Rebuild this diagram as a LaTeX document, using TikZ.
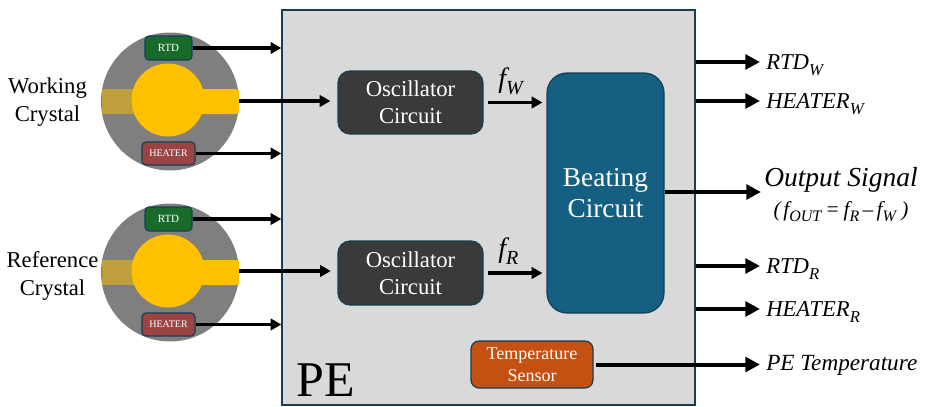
\documentclass[tikz,border=0pt]{standalone}
\usepackage{fontspec}
\setmainfont{Liberation Serif}
\usetikzlibrary{arrows.meta,calc}
\definecolor{edgeblue}{HTML}{163E54}
\definecolor{pefill}{HTML}{D9D9D9}
\definecolor{disc}{HTML}{7F7F7F}
\definecolor{gold}{HTML}{FFC000}
\definecolor{dullgold}{HTML}{BF9E3C}
\definecolor{rtdgreen}{HTML}{196B2C}
\definecolor{heatred}{HTML}{9C4444}
\definecolor{oscgray}{HTML}{3A3A3A}
\definecolor{beatblue}{HTML}{156082}
\definecolor{tempor}{HTML}{C45011}
\newcommand{\fs}[2]{\fontsize{#1pt}{#2pt}\selectfont}
\newcommand{\lowsub}[2]{\raisebox{-0.28em}{\fontsize{#1pt}{#1pt}\selectfont #2}}
\tikzset{
  x=0.75pt,y=-0.75pt,
  blockbox/.style={draw=edgeblue,line width=0.9pt,rounded corners=#1,align=center,text=white,inner sep=0pt},
  sized/.style args={#1x#2}{minimum width=#1*0.75pt,minimum height=#2*0.75pt},
  conn/.style={-{Triangle[length=11pt,width=11pt]},line width=3pt,black},
  thinconn/.style={-{Triangle[length=8pt,width=8.5pt]},line width=2.6pt,black},
  outlab/.style={anchor=west,inner sep=0pt,text height=12pt,text depth=1.5pt},
}
\begin{document}
\begin{tikzpicture}
\useasboundingbox (0,0) rectangle (925,407);
% processing electronics block
\node[draw=edgeblue,fill=pefill,line width=1pt,minimum width=413*0.75pt,minimum height=395*0.75pt,inner sep=0pt] (pe) at (488.5,207.5) {};
\node[anchor=base west,inner sep=0pt,font=\fs{37.5}{40}] (pelabel) at (296,396) {PE};

% working crystal
\node[circle,fill=disc,minimum size=138*0.75pt,inner sep=0pt] (disc1) at (170,101.5) {};
\fill[dullgold] (101.5,89) -- (135,89) -- (135,114) -- (101.5,114) -- cycle;
\fill[gold,rounded corners=2pt] (200,89) rectangle (239,114);
\node[circle,fill=gold,minimum size=73*0.75pt,inner sep=0pt] (gold1) at (168,100) {};
\coordinate (tab1) at (239,101);
\node[blockbox=3pt,fill=rtdgreen,sized=47x24,font=\fs{8.25}{9}] (rtd1) at (168.5,48) {RTD};
\node[blockbox=3pt,fill=heatred,sized=53x23,font=\fs{7.5}{9}] (heat1) at (168.5,153.5) {HEATER};
\node[align=center,inner sep=0pt,font=\fs{17}{21}] (wlabel) at (47.5,102) {Working\\Crystal};

% reference crystal
\node[circle,fill=disc,minimum size=138*0.75pt,inner sep=0pt] (disc2) at (170,272.5) {};
\fill[dullgold] (101.5,260) -- (135,260) -- (135,285) -- (101.5,285) -- cycle;
\fill[gold,rounded corners=2pt] (200,260) rectangle (239,285);
\node[circle,fill=gold,minimum size=73*0.75pt,inner sep=0pt] (gold2) at (168,271) {};
\coordinate (tab2) at (239,271);
\node[blockbox=3pt,fill=rtdgreen,sized=47x24,font=\fs{8.25}{9}] (rtd2) at (168.5,219) {RTD};
\node[blockbox=3pt,fill=heatred,sized=53x23,font=\fs{7.5}{9}] (heat2) at (168.5,324.5) {HEATER};
\node[align=center,inner sep=0pt,font=\fs{17}{21}] (rlabel) at (52.5,275.5) {Reference\\Crystal};

% inner blocks
\node[blockbox=9pt,fill=oscgray,sized=145x63,font=\fs{17}{20}] (osc1) at (410.5,102.5) {Oscillator\\Circuit};
\node[blockbox=9pt,fill=oscgray,sized=145x64,font=\fs{17}{20}] (osc2) at (410.5,273) {Oscillator\\Circuit};
\node[blockbox=15pt,fill=beatblue,sized=117x240,font=\fs{20.5}{23.5}] (beat) at (605.5,193) {Beating\\Circuit};
\node[blockbox=6pt,fill=tempor,sized=122x47,font=\fs{13.5}{16.5}] (temp) at (532,364.5) {Temperature\\Sensor};

% output labels
\node[outlab,font=\itshape\fs{17}{18}] (orw) at (766,62) {RTD\lowsub{12.5}{W}};
\node[outlab,font=\itshape\fs{17}{18}] (ohw) at (766,101) {HEATER\lowsub{12.5}{W}};
\coordinate (osigend) at (761,192);
\node[anchor=base west,inner sep=0pt,font=\itshape\fs{20.6}{22}] (osig) at (764,186) {Output Signal};
\node[anchor=base,inner sep=0pt,font=\itshape\fs{16}{16}] (oform) at (841,216) {(\kern2pt f\lowsub{12}{OUT}\kern3pt=\kern3pt f\lowsub{12}{R}\kern2.5pt–\kern2.5pt f\lowsub{12}{W}\kern4pt)};
\node[outlab,font=\itshape\fs{17}{18}] (orr) at (766,266) {RTD\lowsub{12.5}{R}};
\node[outlab,font=\itshape\fs{17}{18}] (ohr) at (766,309) {HEATER\lowsub{12.5}{R}};
\node[outlab,font=\itshape\fs{17.4}{18}] (opt) at (766,363) {PE Temperature};

% frequency labels
\node[anchor=base west,inner sep=0pt,font=\itshape\fs{21}{24}] (fw) at (498,87) {f\lowsub{15}{W}};
\node[anchor=base west,inner sep=0pt,font=\itshape\fs{21}{24}] (fr) at (498,257) {f\lowsub{15}{R}};

% connectors
\draw[thinconn] (rtd1.east) -- (rtd1.east -| pe.west);
\draw[thinconn] (heat1.east) -- (heat1.east -| pe.west);
\draw[thinconn] (rtd2.east) -- (rtd2.east -| pe.west);
\draw[thinconn] (heat2.east) -- (heat2.east -| pe.west);
\draw[thinconn,shorten >=5.25pt] (tab1) -- (osc1.west |- tab1);
\draw[thinconn,shorten >=5pt] (tab2) -- (osc2.west |- tab2);
\draw[thinconn,shorten <=3pt,shorten >=3pt] (osc1.east) -- (beat.west |- osc1.east);
\draw[thinconn,shorten <=3pt,shorten >=3pt] (osc2.east) -- (beat.west |- osc2.east);
\draw[conn,shorten >=4.5pt] (pe.east |- orw.west) -- (orw.west);
\draw[conn,shorten >=4.5pt] (pe.east |- ohw.west) -- (ohw.west);
\draw[conn] (beat.east |- osigend) -- (osigend);
\draw[conn,shorten >=4.5pt] (pe.east |- orr.west) -- (orr.west);
\draw[conn,shorten >=4.5pt] (pe.east |- ohr.west) -- (ohr.west);
\draw[conn,shorten <=2pt,shorten >=4.5pt] (temp.east) -- (temp.east -| opt.west);
\end{tikzpicture}
\end{document}
